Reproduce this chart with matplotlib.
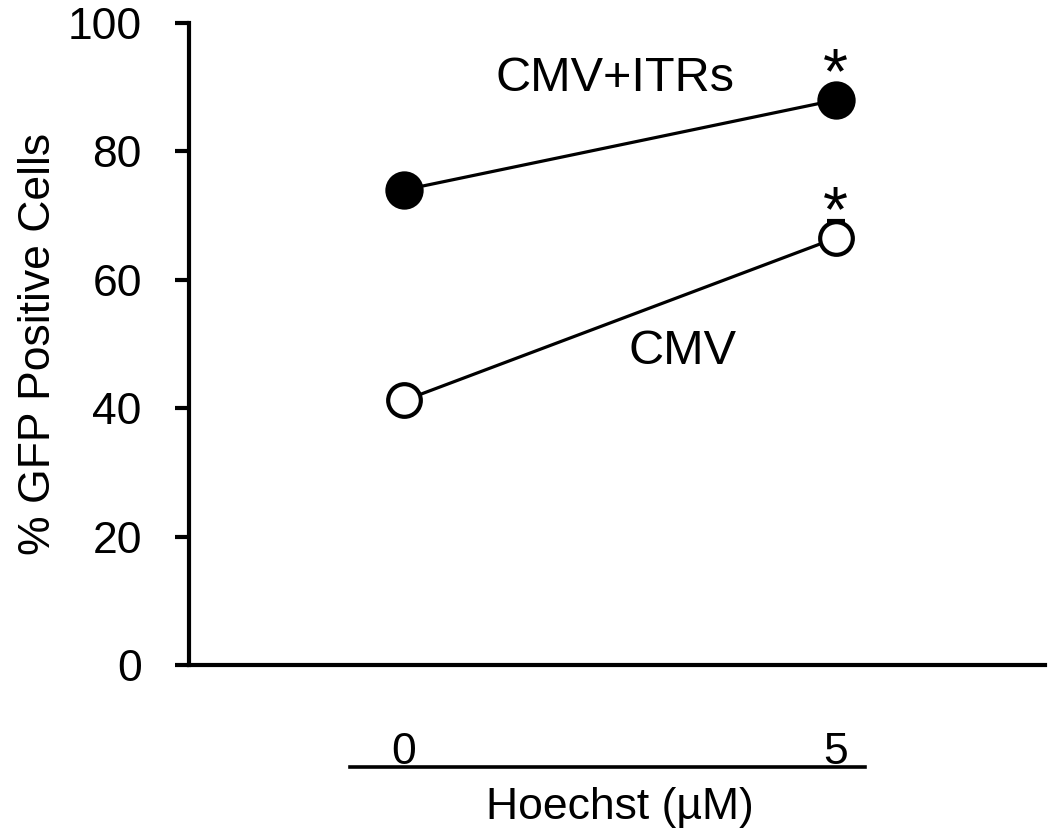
import numpy as np
import matplotlib.pyplot as plt
import matplotlib.transforms as mtransforms

plt.rcParams['font.family'] = ['Liberation Sans', 'DejaVu Sans']

# data
doses = [0, 5]
dose_labels = ["0", "5"]
cmv_itrs = [74.0, 88.0]
cmv_itrs_err = [0.5, 0.5]
cmv = [41.2, 66.5]
cmv_err_up = [0.5, 2.7]
yticks = [0, 20, 40, 60, 80, 100]

fig = plt.figure(figsize=(10.5, 8.39), dpi=100)
ax = fig.add_axes([0.18, 0.2074, 0.815, 0.7652])

ax.errorbar(doses, cmv_itrs, yerr=cmv_itrs_err, color="black", lw=2.3,
            marker="o", ms=25, mfc="black", mec="black", mew=2.6,
            capsize=6.5, capthick=2.6, elinewidth=2.2, zorder=3)
ax.errorbar(doses, cmv, yerr=[[0, 0], cmv_err_up], color="black", lw=2.3,
            marker="o", ms=23.5, mfc="white", mec="black", mew=3,
            capsize=6.5, capthick=3, elinewidth=2.2, zorder=3)

ax.text(2.44, 91.4, "CMV+ITRs", fontsize=35, ha="center", va="center")
ax.text(3.22, 48.8, "CMV", fontsize=35, ha="center", va="center")
ax.text(5, 89.0, "*", fontsize=46, ha="center", va="baseline")
ax.text(5, 67.6, "*", fontsize=46, ha="center", va="baseline")

ax.set_xlim(-2.49, 7.42)
ax.set_ylim(0, 100)
ax.set_yticks(yticks)
ax.set_xticks(doses)
ax.set_xticklabels(dose_labels)

for side in ["top", "right"]:
    ax.spines[side].set_visible(False)
for side in ["left", "bottom"]:
    ax.spines[side].set_linewidth(3)

ax.tick_params(axis="y", length=10, width=3, labelsize=32, pad=24)
ax.tick_params(axis="x", length=0, labelsize=32, pad=48)

ax.set_ylabel("% GFP Positive Cells", fontsize=32, labelpad=6)

# bracket line under the dose labels
trans = mtransforms.blended_transform_factory(ax.transData, fig.transFigure)
ax.plot([-0.625, 5.34], [1 - 767 / 839] * 2, color="black", lw=2.6,
        transform=trans, clip_on=False)
fig.text(620 / 1050, 1 - 808 / 839, "Hoechst (\u00b5M)", fontsize=32,
         ha="center", va="center")

fig.savefig("out.png", dpi=100)
